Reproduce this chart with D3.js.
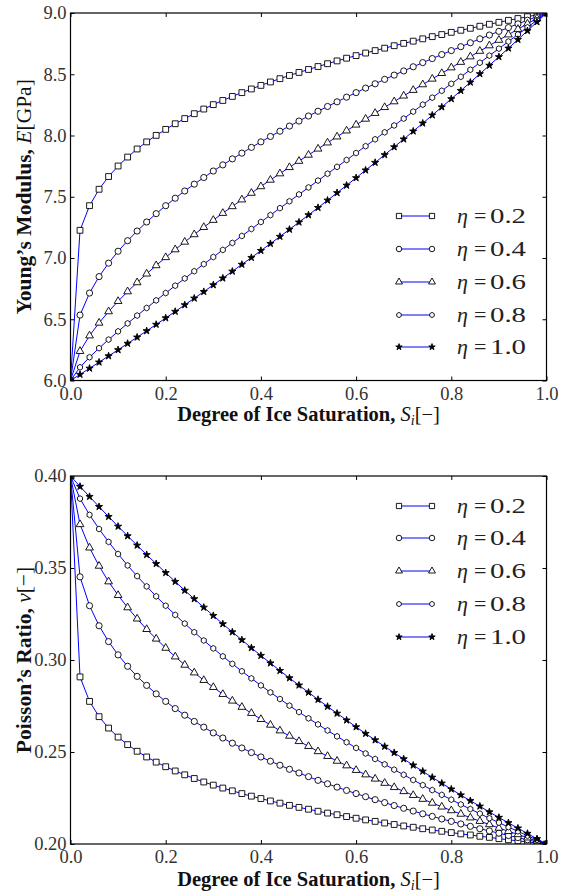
<!DOCTYPE html>
<html lang="en">
<head>
<meta charset="UTF-8">
<title>Young's Modulus and Poisson's Ratio vs Ice Saturation</title>
<script src="https://d3js.org/d3.v7.min.js"></script>
<style>
  body { margin: 0; background: #fff; }
  text { font-family: "Liberation Serif", "DejaVu Serif", serif; }
</style>
</head>
<body>
<div id="my_dataviz"></div>
<script>
// degree of ice saturation (x values of every marker)
var saturation = [0.00, 0.02, 0.04, 0.06, 0.08, 0.10, 0.12, 0.14, 0.16, 0.18,
  0.20, 0.22, 0.24, 0.26, 0.28, 0.30, 0.32, 0.34, 0.36, 0.38,
  0.40, 0.42, 0.44, 0.46, 0.48, 0.50, 0.52, 0.54, 0.56, 0.58,
  0.60, 0.62, 0.64, 0.66, 0.68, 0.70, 0.72, 0.74, 0.76, 0.78,
  0.80, 0.82, 0.84, 0.86, 0.88, 0.90, 0.92, 0.94, 0.96, 0.98, 1.00];

// Young's modulus E [GPa], one list per eta
var eta02E = [6.0, 7.226, 7.427, 7.561, 7.665, 7.751, 7.824, 7.890, 7.948, 8.001,
  8.050, 8.096, 8.138, 8.178, 8.216, 8.252, 8.286, 8.319, 8.350, 8.380,
  8.409, 8.437, 8.464, 8.490, 8.515, 8.539, 8.563, 8.586, 8.609, 8.631,
  8.652, 8.673, 8.693, 8.713, 8.733, 8.752, 8.770, 8.789, 8.807, 8.824,
  8.842, 8.859, 8.875, 8.892, 8.908, 8.924, 8.940, 8.955, 8.970, 8.985, 9.0];
var eta04E = [6.0, 6.534, 6.714, 6.848, 6.958, 7.055, 7.141, 7.220, 7.294, 7.362,
  7.427, 7.488, 7.547, 7.603, 7.657, 7.710, 7.760, 7.809, 7.856, 7.903,
  7.948, 7.992, 8.035, 8.077, 8.118, 8.159, 8.198, 8.237, 8.275, 8.313,
  8.350, 8.387, 8.422, 8.458, 8.493, 8.527, 8.561, 8.595, 8.628, 8.661,
  8.693, 8.725, 8.757, 8.789, 8.820, 8.850, 8.881, 8.911, 8.941, 8.971, 9.0];
var eta06E = [6.0, 6.239, 6.366, 6.470, 6.563, 6.647, 6.726, 6.800, 6.871, 6.939,
  7.005, 7.069, 7.131, 7.192, 7.251, 7.309, 7.366, 7.421, 7.476, 7.530,
  7.584, 7.637, 7.689, 7.740, 7.791, 7.841, 7.891, 7.941, 7.990, 8.039,
  8.087, 8.135, 8.182, 8.230, 8.277, 8.324, 8.370, 8.416, 8.462, 8.508,
  8.554, 8.599, 8.644, 8.689, 8.734, 8.779, 8.823, 8.868, 8.912, 8.956, 9.0];
var eta08E = [6.0, 6.108, 6.190, 6.264, 6.334, 6.401, 6.466, 6.530, 6.592, 6.654,
  6.714, 6.774, 6.833, 6.892, 6.950, 7.008, 7.066, 7.123, 7.180, 7.237,
  7.294, 7.350, 7.407, 7.463, 7.519, 7.576, 7.632, 7.688, 7.744, 7.800,
  7.857, 7.913, 7.969, 8.026, 8.082, 8.138, 8.195, 8.252, 8.309, 8.365,
  8.422, 8.479, 8.537, 8.594, 8.652, 8.709, 8.767, 8.825, 8.883, 8.941, 9.0];
var eta10E = [6.0, 6.049, 6.099, 6.149, 6.200, 6.250, 6.302, 6.353, 6.405, 6.457,
  6.510, 6.563, 6.617, 6.671, 6.725, 6.780, 6.835, 6.891, 6.947, 7.003,
  7.060, 7.117, 7.175, 7.233, 7.292, 7.351, 7.411, 7.471, 7.532, 7.593,
  7.654, 7.717, 7.779, 7.842, 7.906, 7.970, 8.035, 8.100, 8.166, 8.232,
  8.299, 8.366, 8.434, 8.503, 8.572, 8.642, 8.712, 8.783, 8.855, 8.927, 9.0];

// Poisson's ratio nu [-], one list per eta
var eta02Nu = [0.4, 0.2908, 0.2775, 0.2692, 0.2630, 0.2581, 0.2540, 0.2504, 0.2473, 0.2445,
  0.2420, 0.2397, 0.2376, 0.2356, 0.2337, 0.2320, 0.2304, 0.2289, 0.2274, 0.2260,
  0.2247, 0.2234, 0.2222, 0.2210, 0.2199, 0.2189, 0.2178, 0.2168, 0.2159, 0.2149,
  0.2140, 0.2131, 0.2123, 0.2114, 0.2106, 0.2098, 0.2091, 0.2083, 0.2076, 0.2069,
  0.2062, 0.2055, 0.2049, 0.2042, 0.2036, 0.2029, 0.2023, 0.2017, 0.2011, 0.2006, 0.2];
var eta04Nu = [0.4, 0.3452, 0.3295, 0.3186, 0.3100, 0.3028, 0.2966, 0.2911, 0.2862, 0.2816,
  0.2775, 0.2736, 0.2700, 0.2666, 0.2635, 0.2604, 0.2576, 0.2548, 0.2522, 0.2497,
  0.2473, 0.2450, 0.2428, 0.2406, 0.2386, 0.2366, 0.2346, 0.2327, 0.2309, 0.2291,
  0.2274, 0.2257, 0.2241, 0.2225, 0.2209, 0.2194, 0.2179, 0.2164, 0.2150, 0.2136,
  0.2123, 0.2109, 0.2096, 0.2083, 0.2071, 0.2059, 0.2046, 0.2035, 0.2023, 0.2011, 0.2];
var eta06Nu = [0.4, 0.3737, 0.3610, 0.3511, 0.3426, 0.3352, 0.3285, 0.3224, 0.3167, 0.3115,
  0.3065, 0.3018, 0.2973, 0.2931, 0.2890, 0.2852, 0.2814, 0.2778, 0.2744, 0.2711,
  0.2678, 0.2647, 0.2616, 0.2587, 0.2558, 0.2531, 0.2503, 0.2477, 0.2451, 0.2426,
  0.2401, 0.2377, 0.2354, 0.2331, 0.2308, 0.2286, 0.2265, 0.2244, 0.2223, 0.2202,
  0.2182, 0.2163, 0.2143, 0.2124, 0.2106, 0.2087, 0.2069, 0.2052, 0.2034, 0.2017, 0.2];
var eta08Nu = [0.4, 0.3877, 0.3789, 0.3712, 0.3642, 0.3576, 0.3514, 0.3456, 0.3400, 0.3346,
  0.3295, 0.3245, 0.3198, 0.3151, 0.3106, 0.3063, 0.3020, 0.2979, 0.2939, 0.2900,
  0.2862, 0.2824, 0.2788, 0.2752, 0.2717, 0.2683, 0.2650, 0.2617, 0.2585, 0.2553,
  0.2522, 0.2492, 0.2462, 0.2433, 0.2404, 0.2376, 0.2348, 0.2320, 0.2293, 0.2267,
  0.2241, 0.2215, 0.2190, 0.2165, 0.2140, 0.2116, 0.2092, 0.2069, 0.2045, 0.2023, 0.2];
var eta10Nu = [0.4, 0.3943, 0.3888, 0.3833, 0.3779, 0.3726, 0.3674, 0.3623, 0.3572, 0.3523,
  0.3474, 0.3426, 0.3378, 0.3332, 0.3286, 0.3241, 0.3196, 0.3152, 0.3109, 0.3066,
  0.3024, 0.2983, 0.2942, 0.2902, 0.2863, 0.2824, 0.2785, 0.2747, 0.2710, 0.2673,
  0.2636, 0.2600, 0.2565, 0.2530, 0.2496, 0.2462, 0.2428, 0.2395, 0.2362, 0.2330,
  0.2298, 0.2266, 0.2235, 0.2205, 0.2174, 0.2144, 0.2115, 0.2086, 0.2057, 0.2028, 0.2];

var etaLabels = ["0.2", "0.4", "0.6", "0.8", "1.0"];
var xTicks = [0.0, 0.2, 0.4, 0.6, 0.8, 1.0];
var yTicksE = [6.0, 6.5, 7.0, 7.5, 8.0, 8.5, 9.0];
var yTicksNu = [0.20, 0.25, 0.30, 0.35, 0.40];

// overall size
var width = 571, height = 896;

var svg = d3.select("#my_dataviz")
  .append("svg")
    .attr("width", width)
    .attr("height", height);

svg.append("rect").attr("width", width).attr("height", height).attr("fill", "#fff");

// matplotlib-like hexagon marker (pointy top)
var hexagon = {
  draw: function(context, size) {
    var r = Math.sqrt(size / 2.598);
    for (var i = 0; i < 6; i++) {
      var a = -Math.PI / 2 + i * Math.PI / 3;
      if (i == 0) context.moveTo(r * Math.cos(a), r * Math.sin(a));
      else context.lineTo(r * Math.cos(a), r * Math.sin(a));
    }
    context.closePath();
  }
};

var markerTypes = [d3.symbolSquare, d3.symbolCircle, d3.symbolTriangle, hexagon, d3.symbolStar];
var markerSizes = [34, 30, 26, 22, 16];
var markerFills = ["#fff", "#fff", "#fff", "#fff", "#000"];

function drawPanel(cfg) {
  var x = d3.scaleLinear().domain([0, 1]).range([cfg.left, cfg.right]);
  var y = d3.scaleLinear().domain(cfg.yDomain).range([cfg.bottom, cfg.top]);

  // axes: ticks point inwards on all four sides
  var gx = svg.append("g")
    .attr("transform", "translate(0," + cfg.bottom + ")")
    .call(d3.axisBottom(x).tickValues(xTicks).tickFormat(d3.format(".1f"))
      .tickSizeInner(-4).tickSizeOuter(0).tickPadding(6));
  var gxTop = svg.append("g")
    .attr("transform", "translate(0," + cfg.top + ")")
    .call(d3.axisTop(x).tickValues(xTicks).tickFormat("")
      .tickSizeInner(-4).tickSizeOuter(0));
  var gy = svg.append("g")
    .attr("transform", "translate(" + cfg.left + ",0)")
    .call(d3.axisLeft(y).tickValues(cfg.yTicks).tickFormat(d3.format(cfg.yFormat))
      .tickSizeInner(-4).tickSizeOuter(0).tickPadding(4));
  var gyRight = svg.append("g")
    .attr("transform", "translate(" + cfg.right + ",0)")
    .call(d3.axisRight(y).tickValues(cfg.yTicks).tickFormat("")
      .tickSizeInner(-4).tickSizeOuter(0));

  [gx, gxTop, gy, gyRight].forEach(function(g) {
    g.select(".domain").remove();
    g.attr("font-family", null).attr("font-size", null);
    g.selectAll("line").attr("stroke", "#000");
    g.selectAll("text").attr("font-size", 18.5).attr("fill", "#333");
  });

  // clip everything to the axes box
  svg.append("clipPath").attr("id", cfg.id)
    .append("rect")
      .attr("x", cfg.left).attr("y", cfg.top)
      .attr("width", cfg.right - cfg.left).attr("height", cfg.bottom - cfg.top);

  var plot = svg.append("g").attr("clip-path", "url(#" + cfg.id + ")");

  var line = d3.line()
    .x(function(d, i) { return x(saturation[i]); })
    .y(function(d) { return y(d); });

  cfg.series.forEach(function(values, s) {
    plot.append("path")
      .datum(values)
      .attr("fill", "none")
      .attr("stroke", "#0000ff")
      .attr("stroke-width", 1)
      .attr("d", line);

    plot.append("g")
      .selectAll("path")
      .data(values)
      .enter()
      .append("path")
        .attr("transform", function(d, i) { return "translate(" + x(saturation[i]) + "," + y(d) + ")"; })
        .attr("d", d3.symbol().type(markerTypes[s]).size(markerSizes[s]))
        .attr("fill", markerFills[s])
        .attr("stroke", "#000")
        .attr("stroke-width", 0.9);
  });

  // frame
  svg.append("rect")
    .attr("x", cfg.left).attr("y", cfg.top)
    .attr("width", cfg.right - cfg.left).attr("height", cfg.bottom - cfg.top)
    .attr("fill", "none").attr("stroke", "#000").attr("stroke-width", 1.2);

  // legend (no frame)
  etaLabels.forEach(function(lab, s) {
    var ly = cfg.legendY[s];
    svg.append("line")
      .attr("x1", 399).attr("x2", 432).attr("y1", ly).attr("y2", ly)
      .attr("stroke", "#0000ff").attr("stroke-width", 1);
    [399, 432].forEach(function(mx) {
      svg.append("path")
        .attr("transform", "translate(" + mx + "," + ly + ")")
        .attr("d", d3.symbol().type(markerTypes[s]).size(markerSizes[s] * 0.8))
        .attr("fill", markerFills[s])
        .attr("stroke", "#000")
        .attr("stroke-width", 0.9);
    });
    var t = svg.append("text")
      .attr("x", 457).attr("y", ly + 7)
      .attr("font-size", 22).attr("fill", "#222");
    t.append("tspan").attr("font-style", "italic").text("η");
    t.append("tspan").attr("x", 474).text("=");
    t.append("tspan").attr("x", 490).attr("textLength", 36).attr("lengthAdjust", "spacingAndGlyphs").text(lab);
  });

  // x axis title
  var xt = svg.append("text")
    .attr("x", (cfg.left + cfg.right) / 2)
    .attr("y", cfg.xTitleY)
    .attr("text-anchor", "middle")
    .attr("font-size", 20.5)
    .attr("fill", "#111");
  xt.append("tspan").attr("font-weight", "bold").text("Degree of Ice Saturation, ");
  xt.append("tspan").attr("font-style", "italic").text("S");
  xt.append("tspan").attr("font-style", "italic").attr("font-size", 14).attr("dy", 4).text("i");
  xt.append("tspan").attr("dy", -4).text("[−]");

  // y axis title
  var yt = svg.append("text")
    .attr("transform", "translate(31," + (cfg.top + cfg.bottom) / 2 + ") rotate(-90)")
    .attr("text-anchor", "middle")
    .attr("font-size", 21.5)
    .attr("fill", "#111");
  yt.append("tspan").attr("font-weight", "bold").text(cfg.yTitle);
  yt.append("tspan").attr("font-style", "italic").text(cfg.ySymbol);
  yt.append("tspan").text(cfg.yUnit);
}

// top panel: Young's modulus
drawPanel({
  id: "clipTop",
  left: 70.5, right: 546.5, top: 13, bottom: 380.5,
  yDomain: [6, 9], yTicks: yTicksE, yFormat: ".1f",
  series: [eta02E, eta04E, eta06E, eta08E, eta10E],
  legendY: [216, 249, 282, 315, 347],
  xTitleY: 421,
  yTitle: "Young’s Modulus, ", ySymbol: "E", yUnit: "[GPa]"
});

// bottom panel: Poisson's ratio
drawPanel({
  id: "clipBottom",
  left: 70.5, right: 546.5, top: 476, bottom: 844,
  yDomain: [0.2, 0.4], yTicks: yTicksNu, yFormat: ".2f",
  series: [eta02Nu, eta04Nu, eta06Nu, eta08Nu, eta10Nu],
  legendY: [506, 538, 571, 604, 637],
  xTitleY: 886,
  yTitle: "Poisson’s Ratio, ", ySymbol: "ν", yUnit: "[−]"
});
</script>
</body>
</html>
